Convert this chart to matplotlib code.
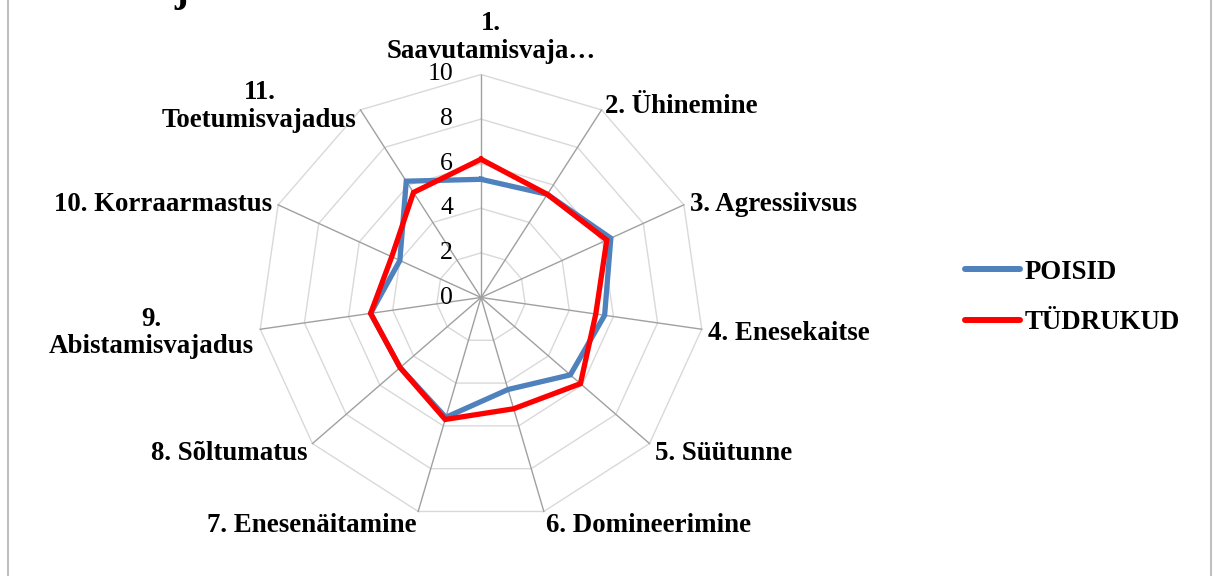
import numpy as np
import matplotlib.pyplot as plt
from matplotlib.lines import Line2D
from matplotlib.transforms import offset_copy

categories = ["1.\nSaavutamisvaja…", "2. Ühinemine", "3. Agressiivsus", "4. Enesekaitse",
              "5. Süütunne", "6. Domineerimine", "7. Enesenäitamine", "8. Sõltumatus",
              "9.\nAbistamisvajadus", "10. Korraarmastus", "11.\nToetumisvajadus"]
poisid = [5.3, 5.5, 6.4, 5.6, 5.3, 4.3, 5.6, 4.8, 5.0, 4.0, 6.2]
tydrukud = [6.2, 5.5, 6.2, 5.2, 5.9, 5.2, 5.7, 4.8, 5.0, 4.4, 5.6]
rticks = [0, 2, 4, 6, 8, 10]

W, H = 1213, 576
fig = plt.figure(figsize=(W / 100, H / 100), dpi=100)

cx, cy, R = 481, 297.5, 223
ax = fig.add_axes([(cx - R) / W, (H - cy - R) / H, 2 * R / W, 2 * R / H], projection="polar")
ax.set_theta_zero_location("N")
ax.set_theta_direction(-1)
ax.set_ylim(0, 10)
ax.set_xticks([])
ax.set_yticks([])
ax.grid(False)
ax.spines["polar"].set_visible(False)
ax.patch.set_visible(False)

n = len(categories)
theta = np.linspace(0, 2 * np.pi, n, endpoint=False)
theta_c = np.append(theta, theta[0])

# polygon grid
for r in rticks[1:]:
    ax.plot(theta_c, [r] * (n + 1), color="#D9D9D9", lw=1.0, clip_on=False, zorder=1)
# spokes
for t in theta:
    ax.plot([t, t], [0, 10], color="#A0A0A0", lw=1.0, clip_on=False, zorder=2)

ax.plot(theta_c, poisid + poisid[:1], color="#4F81BD", lw=3.8, solid_joinstyle="miter",
        label="POISID", zorder=3)
ax.plot(theta_c, tydrukud + tydrukud[:1], color="#FF0000", lw=3.8, solid_joinstyle="miter",
        label="TÜDRUKUD", zorder=4)

# radial tick labels left of the top spoke
tlab = offset_copy(ax.transData, fig=fig, x=-28, y=0, units="dots")
for r in rticks:
    ax.text(0, r, str(r), transform=tlab, ha="right", va="center",
            fontfamily="Liberation Serif", fontsize=18.5, zorder=5)

# category labels
for t, lab in zip(theta, categories):
    s, c = np.sin(t), np.cos(t)
    dx, dy = 0, -2 - 6 * max(0, -c)
    if abs(s) < 0.01:
        ha, va = "center", "bottom"
        dx, dy = 10, 4
    elif s > 0:
        ha, va = "left", "center"
    else:
        ha, va = "right", "center"
    tr = offset_copy(ax.transData, fig=fig, x=dx, y=dy, units="dots")
    ax.text(t, 10.3, lab, transform=tr, ha=ha, va=va, multialignment="center",
            fontfamily="Liberation Serif", fontweight="bold", fontsize=19.4, linespacing=1.15)

leg = fig.legend(loc="center left", bbox_to_anchor=(965 / W, (H - 297.5) / H),
                 frameon=False, borderpad=0, borderaxespad=0, handlelength=2.05,
                 handletextpad=0.15, labelspacing=0.95,
                 prop={"family": "Liberation Serif", "weight": "bold", "size": 19.4})
for h in leg.get_lines():
    h.set_solid_capstyle("round")
    h.set_linewidth(4.3)

# cut-off title descender at the top
fig.text(174 / W, 1 - 1 / H, "j", ha="left", va="baseline",
         fontfamily="Liberation Serif", fontweight="bold", fontsize=30)

# chart border
for x in (8, 1211):
    fig.add_artist(Line2D([x / W, x / W], [0, 1], transform=fig.transFigure,
                          color="#BFBFBF", lw=1.5))

fig.savefig("out.png", dpi=100)
